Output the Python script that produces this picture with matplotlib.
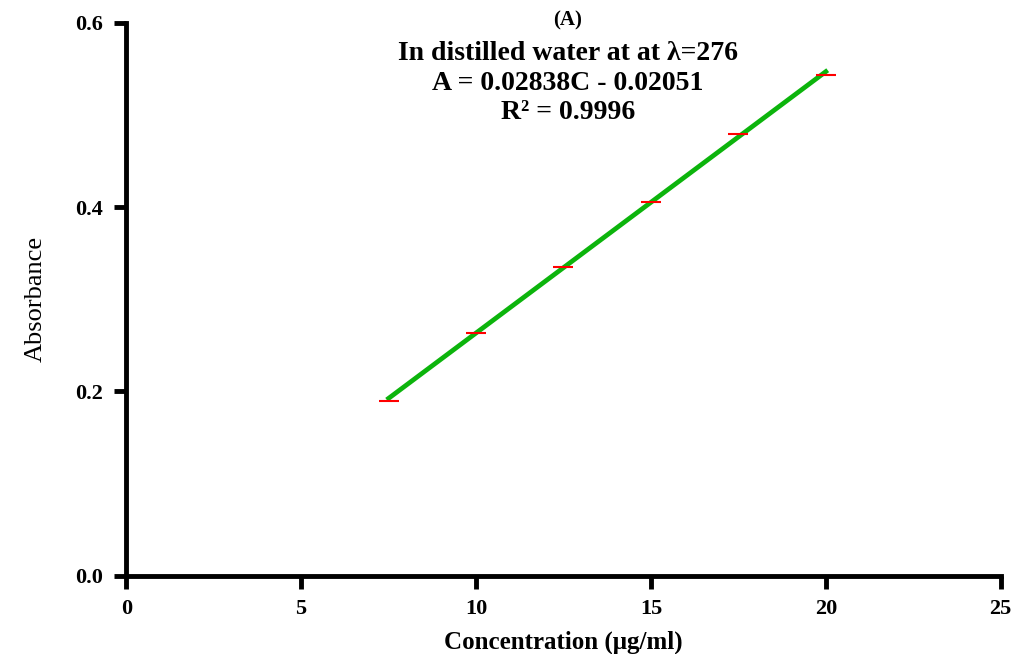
import numpy as np
import matplotlib.pyplot as plt

# concentration (ug/ml) and absorbance
conc = [7.5, 10, 12.5, 15, 17.5, 20]
absorb = [0.190, 0.263, 0.335, 0.406, 0.479, 0.543]

slope = 0.02838
intercept = -0.02051

xticks = [0, 5, 10, 15, 20, 25]
yticks = [0.0, 0.2, 0.4, 0.6]

plt.rcParams['font.family'] = ['Liberation Serif', 'DejaVu Serif']

fig = plt.figure(figsize=(10.18, 6.54), dpi=100)
ax = fig.add_axes([0.124, 0.12, 0.859, 0.845])

# fit line over the data range
xfit = np.array([conc[0], conc[-1]])
ax.plot(xfit, slope * xfit + intercept, color='#0cb40c', lw=3.4, zorder=2)
ax.plot(conc, absorb, linestyle='none', marker='_', color='red',
        markersize=15, markeredgewidth=1.5, zorder=3)

ax.set_xlim(0, 25)
ax.set_ylim(0, 0.6)
ax.set_xticks(xticks)
ax.set_yticks(yticks)
ax.set_xticklabels([str(t) for t in xticks])
ax.set_yticklabels(['%.1f' % t for t in yticks])

for side in ['top', 'right']:
    ax.spines[side].set_visible(False)
for side in ['left', 'bottom']:
    ax.spines[side].set_linewidth(3.5)
ax.tick_params(width=3.5, length=9, direction='out', labelsize=16, pad=8)
for lab in ax.get_xticklabels() + ax.get_yticklabels():
    lab.set_fontweight('bold')

ax.set_xlabel('Concentration (\u03bcg/ml)', fontsize=18, fontweight='bold', labelpad=8)
ax.set_ylabel('Absorbance', fontsize=19, labelpad=20)

cx = 0.505
ax.text(cx, 1.005, '(A)', transform=ax.transAxes, ha='center', va='center',
        fontsize=15, fontweight='bold')
ax.text(cx, 0.945, 'In distilled water at at \u03bb=276', transform=ax.transAxes,
        ha='center', va='center', fontsize=20, fontweight='bold')
ax.text(cx, 0.89, 'A = 0.02838C - 0.02051', transform=ax.transAxes,
        ha='center', va='center', fontsize=20, fontweight='bold')
ax.text(cx, 0.838, 'R\u00b2 = 0.9996', transform=ax.transAxes,
        ha='center', va='center', fontsize=20, fontweight='bold')

fig.savefig('out.png', dpi=100)
